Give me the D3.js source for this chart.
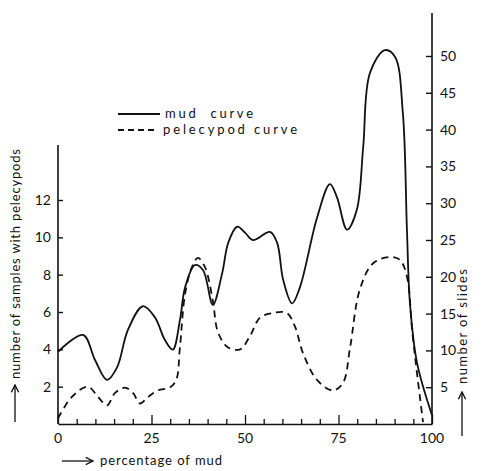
<!DOCTYPE html>
<html>
<head>
<meta charset="utf-8">
<script src="https://cdn.jsdelivr.net/npm/d3@7"></script>
<style>
  body { margin: 0; background: #fff; }
  text { font-family: Lato, "DejaVu Sans", sans-serif; fill: #111; }
</style>
</head>
<body>
<svg id="chart"></svg>
<script>
// percentage of mud (x) and number of slides (right axis) for the mud curve
var mudX = [0, 6.7, 9.9, 13.1, 15.8, 18.7, 22.7, 25.9, 28.6, 30.7, 32.6, 34.0, 36.6, 38.8, 41.4,
  43.9, 45.5, 47.9, 50.0, 52.1, 56.7, 58.6, 60.2, 62.6, 64.7, 69.3, 72.7, 74.6, 77.3, 79.9,
  81.6, 83.4, 87.4, 90.1, 92.2, 93.3, 94.1, 96.0, 100];
var mudSlides = [9.8, 12.1, 8.7, 6.0, 7.7, 12.8, 16.0, 14.5, 11.4, 10.1, 14.1, 18.6, 21.6, 20.9, 16.2,
  20.5, 24.6, 26.8, 26.0, 25.0, 26.1, 24.6, 19.6, 16.4, 18.6, 28.1, 32.6, 30.8, 26.4, 29.1,
  37.6, 47.7, 50.8, 49.9, 42.3, 26.4, 16.4, 8.3, 1.2];

// percentage of mud (x) and number of samples with pelecypods (left axis)
var pelX = [0, 3.7, 8.0, 10.7, 13.1, 15.2, 17.9, 20.1, 21.9, 24.1, 26.7, 29.9, 31.6, 32.6, 34.0,
  35.8, 37.4, 39.3, 41.4, 42.8, 45.5, 48.7, 51.3, 54.0, 57.5, 61.2, 63.4, 65.5, 69.3, 73.5,
  76.2, 78.1, 80.7, 84.2, 88.8, 91.4, 93.3, 94.7, 96.0, 97.6];
var pelSamples = [0.3, 1.45, 2.0, 1.45, 1.0, 1.65, 1.95, 1.65, 1.1, 1.45, 1.8, 1.95, 2.35, 4.1, 7.0,
  8.4, 8.9, 8.4, 6.6, 4.9, 4.1, 4.0, 4.7, 5.7, 5.95, 5.95, 5.2, 3.8, 2.35, 1.8,
  2.2, 4.1, 7.2, 8.6, 8.95, 8.8, 7.9, 5.0, 2.7, 0.1];

var xTicks = [0, 25, 50, 75, 100];
var leftTicks = [2, 4, 6, 8, 10, 12];
var rightTicks = [5, 10, 15, 20, 25, 30, 35, 40, 45, 50];

var legendLabels = ["mud  curve", "pelecypod curve"];

function addText(svg, transform, label, len) {
  svg.append("text")
    .attr("transform", transform)
    .attr("textLength", len)
    .attr("lengthAdjust", "spacing")
    .style("font-size", "13px")
    .style("white-space", "pre")
    .text(label);
}

function drawChart() {
  var svgWidth = 485, svgHeight = 471;
  var svg = d3.select("#chart")
    .attr("width", svgWidth)
    .attr("height", svgHeight);

  var x = d3.scaleLinear().domain([0, 100]).range([58, 432]);
  var yLeft = d3.scaleLinear().domain([0, 12]).range([424, 200]);
  var yRight = d3.scaleLinear().domain([0, 50]).range([424, 56]);

  // bottom axis with a tick every 5
  var bottom = svg.append("g")
    .attr("transform", "translate(0,424)")
    .call(d3.axisBottom(x)
      .tickValues(d3.range(0, 101, 5))
      .tickSize(0)
      .tickFormat(""));
  bottom.select(".domain").attr("stroke", "#111").attr("stroke-width", 1.6);
  bottom.selectAll(".tick line")
    .attr("y2", function(d) { return (d % 25 === 0) ? -9 : -5; })
    .attr("stroke", "#111")
    .attr("stroke-width", 1.3);
  bottom.selectAll(".tick text").remove();

  svg.append("g").selectAll("text")
    .data(xTicks)
    .enter().append("text")
    .attr("x", function(d) { return x(d); })
    .attr("y", 443)
    .attr("text-anchor", "middle")
    .style("font-size", "14px")
    .text(function(d) { return d; });

  // left axis
  svg.append("line")
    .attr("x1", 58).attr("x2", 58)
    .attr("y1", 424).attr("y2", 145)
    .attr("stroke", "#111").attr("stroke-width", 1.6);
  var left = svg.append("g")
    .attr("transform", "translate(58,0)")
    .call(d3.axisRight(yLeft).tickValues(leftTicks).tickSize(5).tickFormat(""));
  left.select(".domain").remove();
  left.selectAll(".tick line").attr("stroke", "#111").attr("stroke-width", 1.4);
  svg.append("g").selectAll("text")
    .data(leftTicks)
    .enter().append("text")
    .attr("x", 51)
    .attr("y", function(d) { return yLeft(d) + 5; })
    .attr("text-anchor", "end")
    .style("font-size", "14px")
    .text(function(d) { return d; });

  // right axis
  svg.append("line")
    .attr("x1", 432).attr("x2", 432)
    .attr("y1", 424).attr("y2", 13)
    .attr("stroke", "#111").attr("stroke-width", 1.6);
  var right = svg.append("g")
    .attr("transform", "translate(432,0)")
    .call(d3.axisLeft(yRight).tickValues(rightTicks).tickSize(6).tickFormat(""));
  right.select(".domain").remove();
  right.selectAll(".tick line").attr("stroke", "#111").attr("stroke-width", 1.4);
  svg.append("g").selectAll("text")
    .data(rightTicks)
    .enter().append("text")
    .attr("x", 440)
    .attr("y", function(d) { return yRight(d) + 5; })
    .style("font-size", "14px")
    .text(function(d) { return d; });

  // curves
  var mudLine = d3.line()
    .x(function(d, i) { return x(mudX[i]); })
    .y(function(d) { return yRight(d); })
    .curve(d3.curveCatmullRom.alpha(0.5));
  var pelLine = d3.line()
    .x(function(d, i) { return x(pelX[i]); })
    .y(function(d) { return yLeft(d); })
    .curve(d3.curveCatmullRom.alpha(0.5));

  svg.append("path")
    .datum(mudSlides)
    .attr("fill", "none")
    .attr("stroke", "#111")
    .attr("stroke-width", 1.8)
    .attr("d", mudLine);

  svg.append("path")
    .datum(pelSamples)
    .attr("fill", "none")
    .attr("stroke", "#111")
    .attr("stroke-width", 1.8)
    .attr("stroke-dasharray", "7,5")
    .attr("d", pelLine);

  // legend
  var legend = svg.append("g");
  legend.append("line")
    .attr("x1", 118).attr("x2", 160).attr("y1", 114).attr("y2", 114)
    .attr("stroke", "#111").attr("stroke-width", 1.8);
  legend.append("line")
    .attr("x1", 118).attr("x2", 158).attr("y1", 130).attr("y2", 130)
    .attr("stroke", "#111").attr("stroke-width", 1.8)
    .attr("stroke-dasharray", "6,4");
  addText(legend, "translate(165,118)", legendLabels[0], 88);
  addText(legend, "translate(163,134)", legendLabels[1], 134);

  // axis titles with arrows
  svg.append("defs").append("marker")
    .attr("id", "arrow")
    .attr("viewBox", "0 0 10 10")
    .attr("refX", 9).attr("refY", 5)
    .attr("markerWidth", 7).attr("markerHeight", 7)
    .attr("orient", "auto")
    .append("path")
    .attr("d", "M1,1 L9,5 L1,9")
    .attr("fill", "none")
    .attr("stroke", "#111")
    .attr("stroke-width", 1.5);

  svg.append("line")
    .attr("x1", 62).attr("x2", 93).attr("y1", 461).attr("y2", 461)
    .attr("stroke", "#111").attr("stroke-width", 1.3)
    .attr("marker-end", "url(#arrow)");
  addText(svg, "translate(100,465)", "percentage of mud", 122);

  svg.append("line")
    .attr("x1", 15).attr("x2", 15).attr("y1", 422).attr("y2", 385)
    .attr("stroke", "#111").attr("stroke-width", 1.3)
    .attr("marker-end", "url(#arrow)");
  addText(svg, "translate(20,379) rotate(-90)", "number of samples with pelecypods", 230);

  svg.append("line")
    .attr("x1", 462).attr("x2", 462).attr("y1", 436).attr("y2", 392)
    .attr("stroke", "#111").attr("stroke-width", 1.3)
    .attr("marker-end", "url(#arrow)");
  addText(svg, "translate(467,384) rotate(-90)", "number of slides", 115);
}

drawChart();
</script>
</body>
</html>
